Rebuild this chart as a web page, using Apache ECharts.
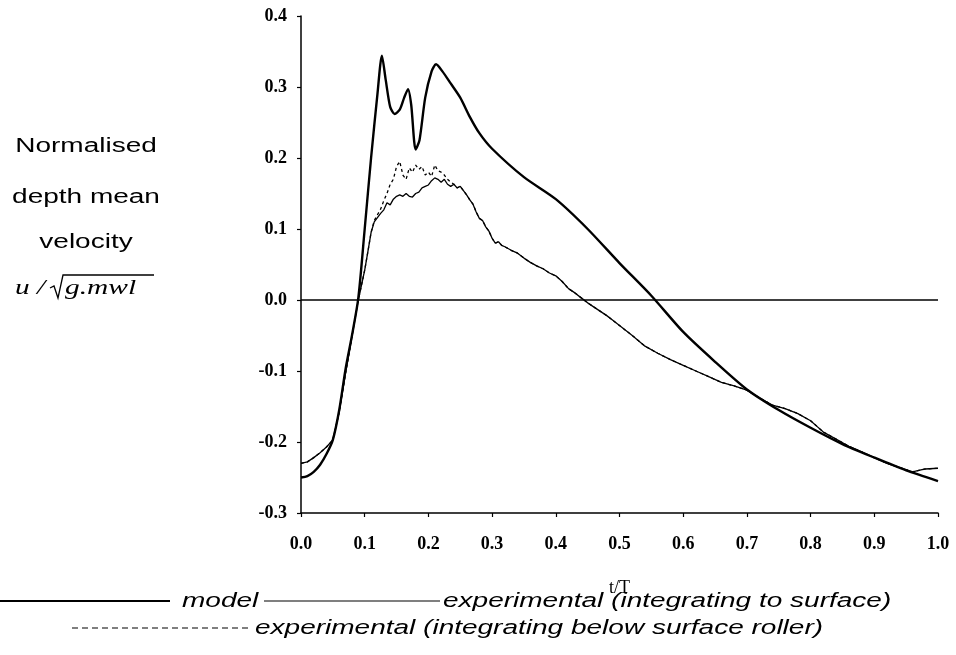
<!DOCTYPE html>
<html>
<head>
<meta charset="utf-8">
<script src="https://cdn.jsdelivr.net/npm/echarts@6/dist/echarts.min.js"></script>
<style>html,body{margin:0;padding:0;background:#fff;}#c{width:956px;height:655px;}</style>
</head>
<body>
<div id="c"></div>
<script>
// ---- data ----
const xTickValues = [0, 0.1, 0.2, 0.3, 0.4, 0.5, 0.6, 0.7, 0.8, 0.9, 1.0];
const yTickValues = [-0.3, -0.2, -0.1, 0.0, 0.1, 0.2, 0.3, 0.4];

const modelT = [0,0.01,0.02,0.03,0.04,0.05,0.06,0.07,0.08,0.09,0.1,0.11,0.12,0.127,0.133,0.14,0.147,0.155,0.162,0.168,0.173,0.18,0.186,0.195,0.205,0.212,0.222,0.235,0.25,0.265,0.28,0.3,0.35,0.4,0.45,0.5,0.55,0.6,0.65,0.7,0.75,0.8,0.85,0.9,0.95,1.0];
const modelV = [-0.250,-0.248,-0.242,-0.232,-0.217,-0.197,-0.155,-0.097,-0.050,0.003,0.10,0.20,0.29,0.344,0.31,0.272,0.262,0.268,0.285,0.297,0.275,0.212,0.225,0.285,0.322,0.332,0.322,0.305,0.285,0.258,0.235,0.213,0.173,0.142,0.100,0.052,0.006,-0.045,-0.087,-0.126,-0.155,-0.180,-0.203,-0.222,-0.240,-0.255];

const expT = [0,0.01,0.02,0.03,0.04,0.05,0.06,0.07,0.08,0.09,0.1,0.105,0.11,0.115,0.12,0.125,0.13,0.135,0.14,0.145,0.15,0.155,0.16,0.165,0.17,0.175,0.18,0.185,0.19,0.195,0.2,0.205,0.21,0.215,0.22,0.225,0.23,0.235,0.24,0.245,0.25,0.255,0.26,0.265,0.27,0.275,0.28,0.285,0.29,0.295,0.3,0.305,0.31,0.315,0.32,0.33,0.34,0.35,0.36,0.37,0.38,0.39,0.4,0.41,0.42,0.43,0.44,0.45,0.46,0.47,0.48,0.49,0.5,0.52,0.54,0.56,0.58,0.6,0.62,0.64,0.66,0.68,0.7,0.72,0.74,0.76,0.78,0.8,0.81,0.82,0.84,0.86,0.88,0.9,0.92,0.94,0.96,0.97,0.98,1.0];
const expSurfaceV = [-0.230,-0.228,-0.222,-0.215,-0.207,-0.197,-0.158,-0.103,-0.052,0.000,0.042,0.068,0.095,0.110,0.116,0.122,0.127,0.137,0.134,0.142,0.146,0.148,0.146,0.150,0.146,0.145,0.150,0.152,0.158,0.160,0.162,0.168,0.172,0.170,0.166,0.170,0.163,0.160,0.163,0.158,0.160,0.154,0.148,0.141,0.135,0.124,0.115,0.112,0.103,0.097,0.087,0.080,0.082,0.077,0.075,0.070,0.066,0.059,0.053,0.048,0.044,0.038,0.034,0.026,0.016,0.010,0.003,-0.004,-0.010,-0.016,-0.022,-0.029,-0.036,-0.050,-0.065,-0.075,-0.084,-0.092,-0.100,-0.108,-0.116,-0.121,-0.127,-0.138,-0.148,-0.153,-0.160,-0.170,-0.178,-0.186,-0.196,-0.206,-0.214,-0.222,-0.230,-0.236,-0.242,-0.240,-0.238,-0.237];
const expRollerV = [-0.230,-0.228,-0.222,-0.215,-0.207,-0.197,-0.158,-0.103,-0.052,0.000,0.042,0.068,0.095,0.112,0.120,0.128,0.140,0.150,0.163,0.170,0.188,0.195,0.176,0.170,0.186,0.180,0.190,0.184,0.188,0.176,0.180,0.174,0.190,0.182,0.180,0.176,0.170,0.166,0.163,0.158,0.160,0.154,0.148,0.141,0.135,0.124,0.115,0.112,0.103,0.097,0.087,0.080,0.082,0.077,0.075,0.070,0.066,0.059,0.053,0.048,0.044,0.038,0.034,0.026,0.016,0.010,0.003,-0.004,-0.010,-0.016,-0.022,-0.029,-0.036,-0.050,-0.065,-0.075,-0.084,-0.092,-0.100,-0.108,-0.116,-0.121,-0.127,-0.138,-0.148,-0.153,-0.160,-0.170,-0.178,-0.186,-0.196,-0.206,-0.214,-0.222,-0.230,-0.236,-0.242,-0.240,-0.238,-0.237];

const legendNames = ['model', 'experimental (integrating to surface)', 'experimental (integrating below surface roller)'];
const yTitleLines = ['Normalised', 'depth mean', 'velocity'];

// ---- chart ----
const pair = (t, v) => t.map((x, i) => [x, v[i]]);
const chart = echarts.init(document.getElementById('c'), null, {renderer: 'canvas'});
const SX = 1.4;
const sans = 'Liberation Sans, Arial, sans-serif';
const serif = 'Liberation Serif, Times New Roman, serif';

const axisCommon = {
  axisLine: {show: true, onZero: false, lineStyle: {color: '#000', width: 1.5}},
  axisTick: {show: true, inside: false, length: 4, lineStyle: {color: '#000', width: 1.2}},
  splitLine: {show: false},
  axisLabel: {color: '#000', fontFamily: serif, fontWeight: 'bold', fontSize: 18}
};

chart.setOption({
  animation: false,
  backgroundColor: '#fff',
  grid: {left: 301, right: 18, top: 16, bottom: 142, containLabel: false},
  xAxis: Object.assign({}, axisCommon, {
    type: 'value', min: xTickValues[0], max: xTickValues[xTickValues.length - 1], interval: 0.1,
    name: 't/T', nameLocation: 'middle', nameGap: 66,
    nameTextStyle: {color: '#000', fontFamily: serif, fontSize: 18},
    axisLabel: Object.assign({}, axisCommon.axisLabel, {margin: 22, formatter: v => v.toFixed(1)})
  }),
  yAxis: Object.assign({}, axisCommon, {
    type: 'value', min: yTickValues[0], max: yTickValues[yTickValues.length - 1], interval: 0.1,
    axisLabel: Object.assign({}, axisCommon.axisLabel, {margin: 14, formatter: v => (Math.abs(v) < 1e-9 ? 0 : v).toFixed(1)})
  }),
  series: [
    {
      name: legendNames[0], type: 'line', data: pair(modelT, modelV), showSymbol: false, smooth: 0.25,
      lineStyle: {color: '#000', width: 2.4}, z: 3,
      markLine: {symbol: 'none', silent: true, label: {show: false},
        lineStyle: {color: '#000', type: 'solid', width: 1.5}, data: [{yAxis: 0}]}
    },
    {
      name: legendNames[1], type: 'line', data: pair(expT, expSurfaceV), showSymbol: false,
      lineStyle: {color: '#000', width: 1.3}, z: 2
    },
    {
      name: legendNames[2], type: 'line', data: pair(expT, expRollerV), showSymbol: false,
      lineStyle: {color: '#000', width: 1.3, type: [3, 3]}, z: 2
    }
  ],
  graphic: [
    // y-axis title
    {type: 'text', x: 86, y: 146, scaleX: SX, style: {text: yTitleLines[0], fontFamily: sans, fontSize: 20, fill: '#000', textAlign: 'center', textVerticalAlign: 'middle'}},
    {type: 'text', x: 86, y: 197, scaleX: SX, style: {text: yTitleLines[1], fontFamily: sans, fontSize: 20, fill: '#000', textAlign: 'center', textVerticalAlign: 'middle'}},
    {type: 'text', x: 86, y: 242, scaleX: SX, style: {text: yTitleLines[2], fontFamily: sans, fontSize: 20, fill: '#000', textAlign: 'center', textVerticalAlign: 'middle'}},
    {type: 'text', x: 15, y: 288, scaleX: SX, style: {text: 'u /', fontFamily: serif, fontStyle: 'italic', fontSize: 21, fill: '#000', textAlign: 'left', textVerticalAlign: 'middle'}},
    {type: 'polyline', shape: {points: [[50, 288], [54, 286], [58, 298], [63, 275], [154, 275]]}, style: {stroke: '#000', lineWidth: 1.3, fill: null}},
    {type: 'text', x: 65, y: 288, scaleX: SX, style: {text: 'g.mwl', fontFamily: serif, fontStyle: 'italic', fontSize: 21, fill: '#000', textAlign: 'left', textVerticalAlign: 'middle'}},
    // legend row 1
    {type: 'line', shape: {x1: 0, y1: 601, x2: 170, y2: 601}, style: {stroke: '#000', lineWidth: 2.2}},
    {type: 'text', x: 182, y: 601, scaleX: SX, style: {text: legendNames[0], fontFamily: sans, fontStyle: 'italic', fontSize: 20, fill: '#000', textAlign: 'left', textVerticalAlign: 'middle'}},
    {type: 'line', shape: {x1: 264, y1: 601, x2: 440, y2: 601}, style: {stroke: '#000', lineWidth: 1.1}},
    {type: 'text', x: 443, y: 601, scaleX: SX, style: {text: legendNames[1], fontFamily: sans, fontStyle: 'italic', fontSize: 20, fill: '#000', textAlign: 'left', textVerticalAlign: 'middle'}},
    // legend row 2
    {type: 'line', shape: {x1: 72, y1: 628, x2: 248, y2: 628}, style: {stroke: '#000', lineWidth: 1.2, lineDash: [6, 4]}},
    {type: 'text', x: 255, y: 628, scaleX: SX, style: {text: legendNames[2], fontFamily: sans, fontStyle: 'italic', fontSize: 20, fill: '#000', textAlign: 'left', textVerticalAlign: 'middle'}}
  ]
});
</script>
</body>
</html>
